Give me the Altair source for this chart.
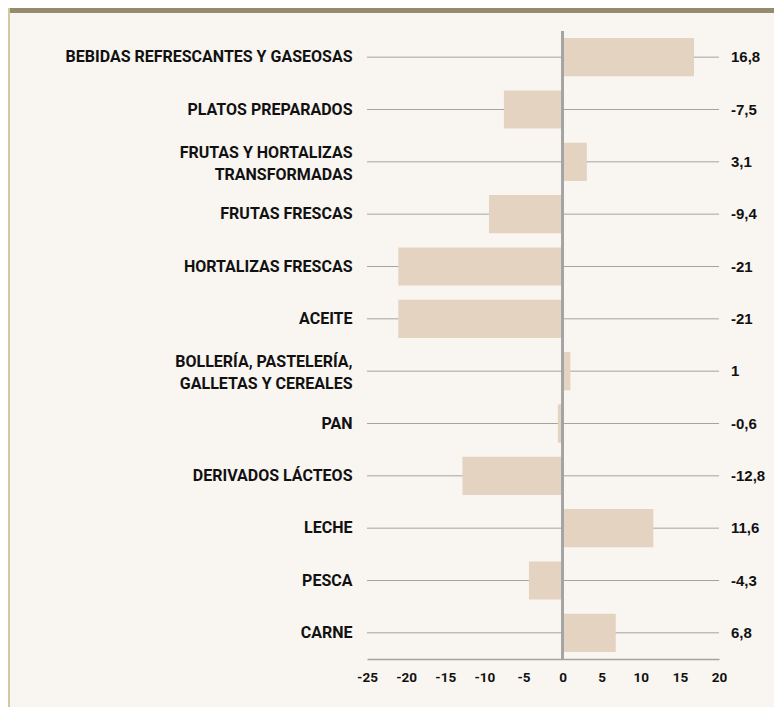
import altair as alt
import pandas as pd

categories = [
    "BEBIDAS REFRESCANTES Y GASEOSAS",
    "PLATOS PREPARADOS",
    "FRUTAS Y HORTALIZAS|TRANSFORMADAS",
    "FRUTAS FRESCAS",
    "HORTALIZAS FRESCAS",
    "ACEITE",
    "BOLLERÍA, PASTELERÍA,|GALLETAS Y CEREALES",
    "PAN",
    "DERIVADOS LÁCTEOS",
    "LECHE",
    "PESCA",
    "CARNE",
]
values = [16.8, -7.5, 3.1, -9.4, -21, -21, 1, -0.6, -12.8, 11.6, -4.3, 6.8]
x_ticks = [-25, -20, -15, -10, -5, 0, 5, 10, 15, 20]

df = pd.DataFrame({"cat": categories, "value": values})

BG = "#f9f6f1"
BAR = "#e3d3c0"
GRID = "#a3a3a3"
COND = "Roboto, sans-serif"

W, H = 352, 628

yenc = alt.Y("cat:N", sort=categories, title=None,
             scale=alt.Scale(paddingInner=0.27, paddingOuter=0.135),
             axis=alt.Axis(domain=False, ticks=False, grid=False,
                           labelExpr="split(datum.label, '|')",
                           labelOffset=alt.ExprRef(expr="indexof(datum.value, '|') >= 0 ? -9 : 0"),
                           labelFont=COND, labelFontSize=16, labelFontWeight="bold",
                           labelColor="#111111", labelPadding=15, labelLineHeight=22,
                           labelBaseline="middle", labelLimit=400))

xaxis = alt.Axis(values=x_ticks, ticks=False, grid=False,
                 domainColor=GRID, domainWidth=1.5,
                 labelExpr="datum.value + ''", labelOverlap=False, labelFlush=False,
                 labelFont=COND, labelFontSize=13.5, labelFontWeight="bold",
                 labelColor="#111111", labelPadding=11)
xscale = alt.Scale(domain=[-25, 20], nice=False)
xenc = alt.X("value:Q", title=None, scale=xscale, axis=xaxis)

base = alt.Chart(df)

grid = base.mark_rule(color=GRID, strokeWidth=1).encode(
    y=yenc, x=alt.value(0), x2=alt.value(W)
)

bars = base.mark_bar(color=BAR).encode(y=yenc, x=xenc, x2=alt.datum(0))

zero = base.mark_rule(color=GRID, strokeWidth=1.5).encode(
    x=alt.X(datum=0, scale=xscale, axis=xaxis), y=alt.value(0), y2=alt.value(H)
)

labels = base.transform_calculate(
    lab="replace(toString(datum.value), '.', ',')"
).mark_text(align="left", baseline="middle", font="Liberation Sans, Arial, sans-serif",
            fontSize=15, fontWeight="bold", color="#111111").encode(
    y=yenc, x=alt.value(W + 12), text="lab:N"
)

band = base.mark_rect(color="#958b6f").encode(
    x=alt.value(-357), x2=alt.value(420), y=alt.value(-30), y2=alt.value(-18)
)
border = base.mark_rect(color="#d6c6a2").encode(
    x=alt.value(-360), x2=alt.value(-357), y=alt.value(-30), y2=alt.value(H + 60)
)

chart = alt.layer(band, border, grid, bars, zero, labels).properties(
    width=W, height=H,
    background=BG,
    autosize=alt.AutoSizeParams(type="none"),
    padding={"left": 359, "top": 23, "right": 55, "bottom": 48},
).configure_view(stroke=None).configure_axisX(labelOverlap=False, labelFlush=False)

chart.save("out.html", embed_options={"renderer": "svg", "actions": False})
